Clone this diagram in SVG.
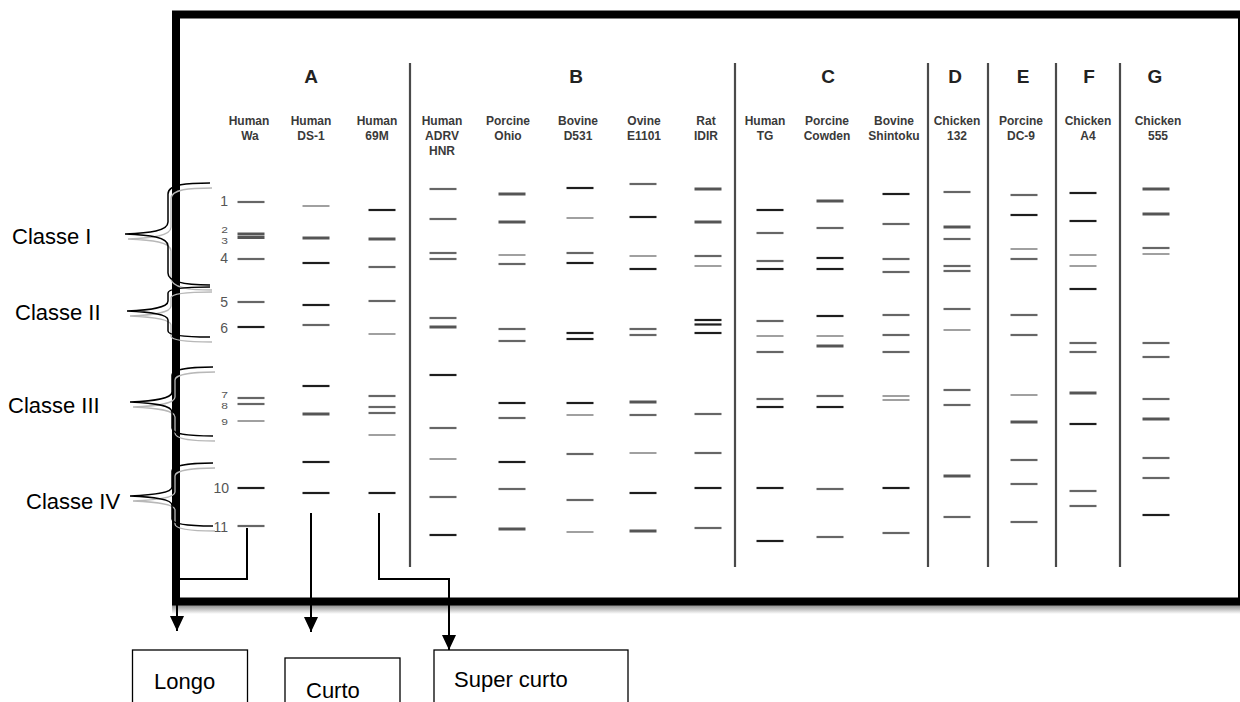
<svg xmlns="http://www.w3.org/2000/svg" width="1240" height="702" viewBox="0 0 1240 702">
<style>
  .lbl{font-family:"Liberation Sans",Arial,sans-serif;font-weight:bold;font-size:12px;fill:#3a3a3a;text-anchor:middle}
  .grp{font-family:"Liberation Sans",Arial,sans-serif;font-weight:bold;font-size:19px;fill:#222;text-anchor:middle}
  .num{font-family:"Liberation Sans",Arial,sans-serif;font-size:14px;fill:#555;text-anchor:end}
  .nums{font-family:"Liberation Sans",Arial,sans-serif;font-size:12px;fill:#555;text-anchor:end}
  .cls{font-family:"Liberation Sans",Arial,sans-serif;font-size:22px;fill:#000}
  .sep{stroke:#4a4a4a;stroke-width:2.2;fill:none}
  .d{stroke:#1e1e1e;stroke-width:2.2}
  .g{stroke:#666;stroke-width:2.2}
  .l{stroke:#a0a0a0;stroke-width:2}
  .t{stroke:#555;stroke-width:3}
  .brace{fill:none;stroke:#000;stroke-width:1.5}
  .braceg{fill:none;stroke:#b8b8b8;stroke-width:1.3}
  .conn{fill:none;stroke:#000;stroke-width:2}
  .box{fill:#fff;stroke:#000;stroke-width:1.3}
</style>
<defs>
  <marker id="arr" viewBox="0 0 15 14" refX="15" refY="7" markerWidth="15" markerHeight="14" markerUnits="userSpaceOnUse" orient="auto">
    <path d="M0,0 L15,7 L0,14 z" fill="#000"/>
  </marker>
  <linearGradient id="shad" x1="0" y1="0" x2="0" y2="1">
    <stop offset="0" stop-color="#8a8a8a"/>
    <stop offset="1" stop-color="#ffffff"/>
  </linearGradient>
</defs>
<rect width="1240" height="702" fill="#fff"/>

<g id="frame">
  <rect x="172" y="605" width="1068" height="9" fill="url(#shad)"/>
  <rect x="176" y="14.5" width="1066" height="587" fill="none" stroke="#000" stroke-width="8"/>
</g>

<g id="separators">
  <line class="sep" x1="410" y1="63" x2="410" y2="567"/>
  <line class="sep" x1="735" y1="63" x2="735" y2="567"/>
  <line class="sep" x1="928" y1="63" x2="928" y2="567"/>
  <line class="sep" x1="988" y1="63" x2="988" y2="567"/>
  <line class="sep" x1="1056" y1="63" x2="1056" y2="567"/>
  <line class="sep" x1="1120" y1="63" x2="1120" y2="567"/>
</g>

<g id="groups">
  <text class="grp" x="311" y="83">A</text>
  <text class="grp" x="576" y="83">B</text>
  <text class="grp" x="828" y="83">C</text>
  <text class="grp" x="955" y="83">D</text>
  <text class="grp" x="1023" y="83">E</text>
  <text class="grp" x="1089" y="83">F</text>
  <text class="grp" x="1155" y="83">G</text>
</g>

<g id="segment-numbers">
  <text class="num" x="228" y="206">1</text>
  <text class="nums" transform="translate(228,233) scale(1,0.78)">2</text>
  <text class="nums" transform="translate(228,244) scale(1,0.78)">3</text>
  <text class="num" x="228" y="263">4</text>
  <text class="num" x="228" y="307">5</text>
  <text class="num" x="228" y="333">6</text>
  <text class="nums" transform="translate(228,398) scale(1,0.78)">7</text>
  <text class="nums" transform="translate(228,409) scale(1,0.78)">8</text>
  <text class="nums" transform="translate(228,425) scale(1,0.78)">9</text>
  <text class="num" x="229" y="493">10</text>
  <text class="num" x="228" y="532">11</text>
</g>

<g id="lane-human-wa">
  <text class="lbl" x="249" y="125">Human</text><text class="lbl" x="250" y="139.5">Wa</text>
  <g transform="translate(251,0)">
    <line class="g" x1="-13.5" x2="13.5" y1="202" y2="202"/>
    <line class="t" x1="-13.5" x2="13.5" y1="234" y2="234"/>
    <line class="t" x1="-13.5" x2="13.5" y1="237.5" y2="237.5"/>
    <line class="g" x1="-13.5" x2="13.5" y1="259" y2="259"/>
    <line class="g" x1="-13.5" x2="13.5" y1="302" y2="302"/>
    <line class="d" x1="-13.5" x2="13.5" y1="327" y2="327"/>
    <line class="g" x1="-13.5" x2="13.5" y1="398" y2="398"/>
    <line class="g" x1="-13.5" x2="13.5" y1="404" y2="404"/>
    <line class="l" x1="-13.5" x2="13.5" y1="421" y2="421"/>
    <line class="d" x1="-13.5" x2="13.5" y1="488" y2="488"/>
    <line class="g" x1="-13.5" x2="13.5" y1="526" y2="526"/>
  </g>
</g>

<g id="lane-human-ds1">
  <text class="lbl" x="311" y="125">Human</text><text class="lbl" x="311" y="139.5">DS-1</text>
  <g transform="translate(316,0)">
    <line class="l" x1="-13.5" x2="13.5" y1="206" y2="206"/>
    <line class="t" x1="-13.5" x2="13.5" y1="238" y2="238"/>
    <line class="d" x1="-13.5" x2="13.5" y1="263" y2="263"/>
    <line class="d" x1="-13.5" x2="13.5" y1="305" y2="305"/>
    <line class="g" x1="-13.5" x2="13.5" y1="325" y2="325"/>
    <line class="d" x1="-13.5" x2="13.5" y1="386" y2="386"/>
    <line class="t" x1="-13.5" x2="13.5" y1="414" y2="414"/>
    <line class="d" x1="-13.5" x2="13.5" y1="462" y2="462"/>
    <line class="d" x1="-13.5" x2="13.5" y1="493" y2="493"/>
  </g>
</g>

<g id="lane-human-69m">
  <text class="lbl" x="377" y="125">Human</text><text class="lbl" x="377" y="139.5">69M</text>
  <g transform="translate(382,0)">
    <line class="d" x1="-13.5" x2="13.5" y1="210" y2="210"/>
    <line class="t" x1="-13.5" x2="13.5" y1="239" y2="239"/>
    <line class="g" x1="-13.5" x2="13.5" y1="267" y2="267"/>
    <line class="g" x1="-13.5" x2="13.5" y1="301" y2="301"/>
    <line class="l" x1="-13.5" x2="13.5" y1="334" y2="334"/>
    <line class="g" x1="-13.5" x2="13.5" y1="396" y2="396"/>
    <line class="g" x1="-13.5" x2="13.5" y1="407" y2="407"/>
    <line class="g" x1="-13.5" x2="13.5" y1="413" y2="413"/>
    <line class="l" x1="-13.5" x2="13.5" y1="435" y2="435"/>
    <line class="d" x1="-13.5" x2="13.5" y1="493" y2="493"/>
  </g>
</g>

<g id="lane-human-adrv">
  <text class="lbl" x="442" y="125">Human</text><text class="lbl" x="442" y="139.5">ADRV</text><text class="lbl" x="442" y="154.5">HNR</text>
  <g transform="translate(443,0)">
    <line class="g" x1="-13.5" x2="13.5" y1="189" y2="189"/>
    <line class="g" x1="-13.5" x2="13.5" y1="219" y2="219"/>
    <line class="g" x1="-13.5" x2="13.5" y1="253" y2="253"/>
    <line class="g" x1="-13.5" x2="13.5" y1="259" y2="259"/>
    <line class="g" x1="-13.5" x2="13.5" y1="318" y2="318"/>
    <line class="t" x1="-13.5" x2="13.5" y1="327" y2="327"/>
    <line class="d" x1="-13.5" x2="13.5" y1="375" y2="375"/>
    <line class="g" x1="-13.5" x2="13.5" y1="428" y2="428"/>
    <line class="l" x1="-13.5" x2="13.5" y1="459" y2="459"/>
    <line class="g" x1="-13.5" x2="13.5" y1="497" y2="497"/>
    <line class="d" x1="-13.5" x2="13.5" y1="535" y2="535"/>
  </g>
</g>

<g id="lane-porcine-ohio">
  <text class="lbl" x="508" y="125">Porcine</text><text class="lbl" x="508" y="139.5">Ohio</text>
  <g transform="translate(512,0)">
    <line class="t" x1="-13.5" x2="13.5" y1="194" y2="194"/>
    <line class="t" x1="-13.5" x2="13.5" y1="222" y2="222"/>
    <line class="l" x1="-13.5" x2="13.5" y1="255" y2="255"/>
    <line class="g" x1="-13.5" x2="13.5" y1="264" y2="264"/>
    <line class="g" x1="-13.5" x2="13.5" y1="329" y2="329"/>
    <line class="g" x1="-13.5" x2="13.5" y1="341" y2="341"/>
    <line class="d" x1="-13.5" x2="13.5" y1="403" y2="403"/>
    <line class="g" x1="-13.5" x2="13.5" y1="418" y2="418"/>
    <line class="d" x1="-13.5" x2="13.5" y1="462" y2="462"/>
    <line class="g" x1="-13.5" x2="13.5" y1="489" y2="489"/>
    <line class="t" x1="-13.5" x2="13.5" y1="529" y2="529"/>
  </g>
</g>

<g id="lane-bovine-d531">
  <text class="lbl" x="578" y="125">Bovine</text><text class="lbl" x="578" y="139.5">D531</text>
  <g transform="translate(580,0)">
    <line class="d" x1="-13.5" x2="13.5" y1="188" y2="188"/>
    <line class="l" x1="-13.5" x2="13.5" y1="218" y2="218"/>
    <line class="g" x1="-13.5" x2="13.5" y1="253" y2="253"/>
    <line class="d" x1="-13.5" x2="13.5" y1="263" y2="263"/>
    <line class="d" x1="-13.5" x2="13.5" y1="333" y2="333"/>
    <line class="d" x1="-13.5" x2="13.5" y1="339" y2="339"/>
    <line class="d" x1="-13.5" x2="13.5" y1="403" y2="403"/>
    <line class="l" x1="-13.5" x2="13.5" y1="415" y2="415"/>
    <line class="g" x1="-13.5" x2="13.5" y1="454" y2="454"/>
    <line class="g" x1="-13.5" x2="13.5" y1="500" y2="500"/>
    <line class="l" x1="-13.5" x2="13.5" y1="532" y2="532"/>
  </g>
</g>

<g id="lane-ovine-e1101">
  <text class="lbl" x="644" y="125">Ovine</text><text class="lbl" x="644" y="139.5">E1101</text>
  <g transform="translate(643,0)">
    <line class="g" x1="-13.5" x2="13.5" y1="184" y2="184"/>
    <line class="d" x1="-13.5" x2="13.5" y1="217" y2="217"/>
    <line class="l" x1="-13.5" x2="13.5" y1="256" y2="256"/>
    <line class="d" x1="-13.5" x2="13.5" y1="269" y2="269"/>
    <line class="g" x1="-13.5" x2="13.5" y1="329" y2="329"/>
    <line class="g" x1="-13.5" x2="13.5" y1="335" y2="335"/>
    <line class="t" x1="-13.5" x2="13.5" y1="402" y2="402"/>
    <line class="g" x1="-13.5" x2="13.5" y1="415" y2="415"/>
    <line class="l" x1="-13.5" x2="13.5" y1="453" y2="453"/>
    <line class="d" x1="-13.5" x2="13.5" y1="493" y2="493"/>
    <line class="t" x1="-13.5" x2="13.5" y1="531" y2="531"/>
  </g>
</g>

<g id="lane-rat-idir">
  <text class="lbl" x="706" y="125">Rat</text><text class="lbl" x="706" y="139.5">IDIR</text>
  <g transform="translate(708,0)">
    <line class="t" x1="-13.5" x2="13.5" y1="189" y2="189"/>
    <line class="t" x1="-13.5" x2="13.5" y1="222" y2="222"/>
    <line class="g" x1="-13.5" x2="13.5" y1="256" y2="256"/>
    <line class="l" x1="-13.5" x2="13.5" y1="266" y2="266"/>
    <line class="d" x1="-13.5" x2="13.5" y1="320" y2="320"/>
    <line class="d" x1="-13.5" x2="13.5" y1="324.5" y2="324.5"/>
    <line class="d" x1="-13.5" x2="13.5" y1="333" y2="333"/>
    <line class="g" x1="-13.5" x2="13.5" y1="414" y2="414"/>
    <line class="g" x1="-13.5" x2="13.5" y1="453" y2="453"/>
    <line class="d" x1="-13.5" x2="13.5" y1="488" y2="488"/>
    <line class="g" x1="-13.5" x2="13.5" y1="528" y2="528"/>
  </g>
</g>

<g id="lane-human-tg">
  <text class="lbl" x="765" y="125">Human</text><text class="lbl" x="765" y="139.5">TG</text>
  <g transform="translate(770,0)">
    <line class="d" x1="-13.5" x2="13.5" y1="210" y2="210"/>
    <line class="g" x1="-13.5" x2="13.5" y1="233" y2="233"/>
    <line class="g" x1="-13.5" x2="13.5" y1="261" y2="261"/>
    <line class="d" x1="-13.5" x2="13.5" y1="269" y2="269"/>
    <line class="g" x1="-13.5" x2="13.5" y1="321" y2="321"/>
    <line class="l" x1="-13.5" x2="13.5" y1="336" y2="336"/>
    <line class="g" x1="-13.5" x2="13.5" y1="352" y2="352"/>
    <line class="g" x1="-13.5" x2="13.5" y1="399" y2="399"/>
    <line class="d" x1="-13.5" x2="13.5" y1="407" y2="407"/>
    <line class="d" x1="-13.5" x2="13.5" y1="488" y2="488"/>
    <line class="d" x1="-13.5" x2="13.5" y1="541" y2="541"/>
  </g>
</g>

<g id="lane-porcine-cowden">
  <text class="lbl" x="827" y="125">Porcine</text><text class="lbl" x="827" y="139.5">Cowden</text>
  <g transform="translate(830,0)">
    <line class="t" x1="-13.5" x2="13.5" y1="201" y2="201"/>
    <line class="g" x1="-13.5" x2="13.5" y1="228" y2="228"/>
    <line class="d" x1="-13.5" x2="13.5" y1="258" y2="258"/>
    <line class="d" x1="-13.5" x2="13.5" y1="269" y2="269"/>
    <line class="d" x1="-13.5" x2="13.5" y1="316" y2="316"/>
    <line class="l" x1="-13.5" x2="13.5" y1="336" y2="336"/>
    <line class="t" x1="-13.5" x2="13.5" y1="346" y2="346"/>
    <line class="g" x1="-13.5" x2="13.5" y1="396" y2="396"/>
    <line class="d" x1="-13.5" x2="13.5" y1="407" y2="407"/>
    <line class="g" x1="-13.5" x2="13.5" y1="489" y2="489"/>
    <line class="g" x1="-13.5" x2="13.5" y1="537" y2="537"/>
  </g>
</g>

<g id="lane-bovine-shintoku">
  <text class="lbl" x="894" y="125">Bovine</text><text class="lbl" x="894" y="139.5">Shintoku</text>
  <g transform="translate(896,0)">
    <line class="d" x1="-13.5" x2="13.5" y1="194" y2="194"/>
    <line class="g" x1="-13.5" x2="13.5" y1="224" y2="224"/>
    <line class="g" x1="-13.5" x2="13.5" y1="259" y2="259"/>
    <line class="g" x1="-13.5" x2="13.5" y1="272" y2="272"/>
    <line class="g" x1="-13.5" x2="13.5" y1="315" y2="315"/>
    <line class="g" x1="-13.5" x2="13.5" y1="335" y2="335"/>
    <line class="g" x1="-13.5" x2="13.5" y1="352" y2="352"/>
    <line class="l" x1="-13.5" x2="13.5" y1="396" y2="396"/>
    <line class="l" x1="-13.5" x2="13.5" y1="400" y2="400"/>
    <line class="d" x1="-13.5" x2="13.5" y1="488" y2="488"/>
    <line class="g" x1="-13.5" x2="13.5" y1="533" y2="533"/>
  </g>
</g>

<g id="lane-chicken-132">
  <text class="lbl" x="957" y="125">Chicken</text><text class="lbl" x="957" y="139.5">132</text>
  <g transform="translate(957,0)">
    <line class="g" x1="-13.5" x2="13.5" y1="192" y2="192"/>
    <line class="t" x1="-13.5" x2="13.5" y1="227" y2="227"/>
    <line class="g" x1="-13.5" x2="13.5" y1="239" y2="239"/>
    <line class="g" x1="-13.5" x2="13.5" y1="266" y2="266"/>
    <line class="g" x1="-13.5" x2="13.5" y1="271" y2="271"/>
    <line class="g" x1="-13.5" x2="13.5" y1="309" y2="309"/>
    <line class="l" x1="-13.5" x2="13.5" y1="330" y2="330"/>
    <line class="g" x1="-13.5" x2="13.5" y1="390" y2="390"/>
    <line class="g" x1="-13.5" x2="13.5" y1="405" y2="405"/>
    <line class="t" x1="-13.5" x2="13.5" y1="476" y2="476"/>
    <line class="g" x1="-13.5" x2="13.5" y1="517" y2="517"/>
  </g>
</g>

<g id="lane-porcine-dc9">
  <text class="lbl" x="1021" y="125">Porcine</text><text class="lbl" x="1021" y="139.5">DC-9</text>
  <g transform="translate(1024,0)">
    <line class="g" x1="-13.5" x2="13.5" y1="195" y2="195"/>
    <line class="d" x1="-13.5" x2="13.5" y1="215" y2="215"/>
    <line class="l" x1="-13.5" x2="13.5" y1="249" y2="249"/>
    <line class="g" x1="-13.5" x2="13.5" y1="259" y2="259"/>
    <line class="g" x1="-13.5" x2="13.5" y1="315" y2="315"/>
    <line class="g" x1="-13.5" x2="13.5" y1="335" y2="335"/>
    <line class="l" x1="-13.5" x2="13.5" y1="395" y2="395"/>
    <line class="t" x1="-13.5" x2="13.5" y1="422" y2="422"/>
    <line class="g" x1="-13.5" x2="13.5" y1="460" y2="460"/>
    <line class="g" x1="-13.5" x2="13.5" y1="484" y2="484"/>
    <line class="g" x1="-13.5" x2="13.5" y1="522" y2="522"/>
  </g>
</g>

<g id="lane-chicken-a4">
  <text class="lbl" x="1088" y="125">Chicken</text><text class="lbl" x="1088" y="139.5">A4</text>
  <g transform="translate(1083,0)">
    <line class="d" x1="-13.5" x2="13.5" y1="193" y2="193"/>
    <line class="d" x1="-13.5" x2="13.5" y1="221" y2="221"/>
    <line class="l" x1="-13.5" x2="13.5" y1="255" y2="255"/>
    <line class="l" x1="-13.5" x2="13.5" y1="266" y2="266"/>
    <line class="d" x1="-13.5" x2="13.5" y1="289" y2="289"/>
    <line class="g" x1="-13.5" x2="13.5" y1="343" y2="343"/>
    <line class="g" x1="-13.5" x2="13.5" y1="352" y2="352"/>
    <line class="t" x1="-13.5" x2="13.5" y1="393" y2="393"/>
    <line class="d" x1="-13.5" x2="13.5" y1="424" y2="424"/>
    <line class="g" x1="-13.5" x2="13.5" y1="491" y2="491"/>
    <line class="g" x1="-13.5" x2="13.5" y1="506" y2="506"/>
  </g>
</g>

<g id="lane-chicken-555">
  <text class="lbl" x="1158" y="125">Chicken</text><text class="lbl" x="1158" y="139.5">555</text>
  <g transform="translate(1156,0)">
    <line class="t" x1="-13.5" x2="13.5" y1="189" y2="189"/>
    <line class="t" x1="-13.5" x2="13.5" y1="214" y2="214"/>
    <line class="g" x1="-13.5" x2="13.5" y1="248" y2="248"/>
    <line class="l" x1="-13.5" x2="13.5" y1="254" y2="254"/>
    <line class="g" x1="-13.5" x2="13.5" y1="343" y2="343"/>
    <line class="g" x1="-13.5" x2="13.5" y1="357" y2="357"/>
    <line class="g" x1="-13.5" x2="13.5" y1="399" y2="399"/>
    <line class="t" x1="-13.5" x2="13.5" y1="419" y2="419"/>
    <line class="g" x1="-13.5" x2="13.5" y1="458" y2="458"/>
    <line class="g" x1="-13.5" x2="13.5" y1="478" y2="478"/>
    <line class="d" x1="-13.5" x2="13.5" y1="515" y2="515"/>
  </g>
</g>

<g id="class-i">
  <path class="braceg" d="M212,188 C190,188 171,189 171,199 L171,227 C171,236 152,238 128,239 C152,240 171,242 171,251 L171,278 C171,288 190,290 212,290"/>
  <path class="brace" d="M210,183 C188,183 168,184 168,194 L168,222 C168,231 150,233 125,234 C150,235 168,237 168,246 L168,273 C168,283 188,285 210,285"/>
  <text class="cls" x="12" y="244">Classe I</text>
</g>
<g id="class-ii">
  <path class="braceg" d="M212,292 C190,292 171,293 171,298 L171,306 C171,313 152,315 130,316 C152,317 171,319 171,325 L171,336 C171,341 190,342 212,342"/>
  <path class="brace" d="M210,287 C188,287 168,288 168,293 L168,301 C168,308 150,310 127,311 C150,312 168,314 168,320 L168,331 C168,336 188,337 210,337"/>
  <text class="cls" x="15" y="320">Classe II</text>
</g>
<g id="class-iii">
  <path class="braceg" d="M215,372 C195,372 175,374 175,380 L175,397 C175,404 156,406 133,407 C156,408 175,410 175,417 L175,433 C175,440 195,441 215,441"/>
  <path class="brace" d="M213,367 C193,367 172,369 172,375 L172,392 C172,399 153,401 130,402 C153,403 172,405 172,412 L172,428 C172,435 193,436 213,436"/>
  <text class="cls" x="8" y="413">Classe III</text>
</g>
<g id="class-iv">
  <path class="braceg" d="M215,468 C195,468 175,470 175,476 L175,492 C175,498 156,500 133,501 C156,502 175,504 175,510 L175,524 C175,530 195,531 215,531"/>
  <path class="brace" d="M213,463 C193,463 172,465 172,471 L172,487 C172,493 153,495 130,496 C153,497 172,499 172,505 L172,519 C172,525 193,526 213,526"/>
  <text class="cls" x="26" y="509">Classe IV</text>
</g>

<g id="connectors">
  <path class="conn" d="M247,528 V579 H177 V631" marker-end="url(#arr)"/>
  <path class="conn" d="M311,513 V632" marker-end="url(#arr)"/>
  <path class="conn" d="M379,513 V579 H449 V650" marker-end="url(#arr)"/>
</g>

<g id="box-longo">
  <rect class="box" x="132.5" y="650" width="115" height="70"/>
  <text class="cls" x="154" y="689">Longo</text>
</g>
<g id="box-curto">
  <rect class="box" x="285" y="658" width="115" height="70"/>
  <text class="cls" x="306" y="698">Curto</text>
</g>
<g id="box-super-curto">
  <rect class="box" x="434" y="650" width="194" height="70"/>
  <text class="cls" x="454" y="687">Super curto</text>
</g>
</svg>
